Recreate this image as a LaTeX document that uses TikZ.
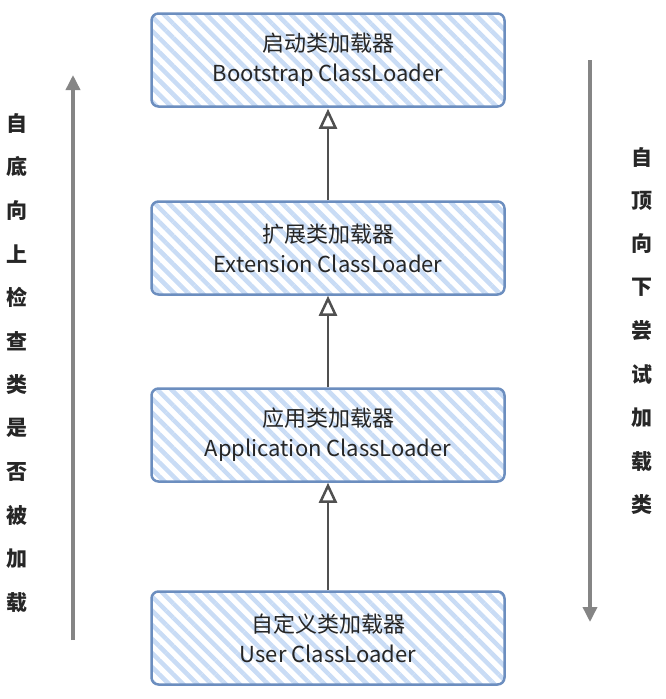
\documentclass[tikz,border=0pt]{standalone}
\usepackage{fontspec}
\setmainfont{Noto Sans CJK SC}
\usetikzlibrary{arrows.meta,patterns.meta}
\definecolor{boxline}{HTML}{6C8EBF}
\definecolor{hatch}{HTML}{C9DCF5}
\definecolor{conngray}{HTML}{505050}
\definecolor{sidegray}{HTML}{858585}
\tikzset{
  conntip/.tip={Triangle[length=20pt,width=18pt,open]}
}
\begin{document}
\begin{tikzpicture}[x=1pt,y=-1pt,
  loader/.style={draw=boxline, line width=2.5pt, rounded corners=7pt,
    minimum width=353pt, minimum height=93pt, inner sep=0pt,
    pattern={Lines[angle=-45,distance=10pt,line width=4.5pt]}, pattern color=hatch,
    align=center, font=\fontsize{22}{30}\selectfont, text=black!85},
  conn/.style={draw=conngray, line width=2.5pt, -conntip},
  side/.style={draw=sidegray, line width=3.5pt, -{Triangle[length=15pt,width=14pt]}},
  sidetext/.style={font=\fontsize{21}{21}\selectfont\bfseries, text=black!85, inner sep=0pt}
]
\useasboundingbox (0,0) rectangle (665,699);

\node[loader] (boot) at (328,60)  {启动类加载器\\Bootstrap ClassLoader};
\node[loader] (ext)  at (328,248) {扩展类加载器\\Extension ClassLoader};
\node[loader] (app)  at (328,435) {应用类加载器\\Application ClassLoader};
\node[loader] (user) at (328,638) {自定义类加载器\\User ClassLoader};

\draw[conn] (user.north) -- (app.south);
\draw[conn] (app.north) -- (ext.south);
\draw[conn] (ext.north) -- (boot.south);

\coordinate (lbot) at (73,640);
\coordinate (ltop) at (73,75);
\draw[side] (lbot) -- (ltop);
\coordinate (rtop) at (590,60);
\coordinate (rbot) at (590,622);
\draw[side] (rtop) -- (rbot);

\foreach \c [count=\i] in {自,底,向,上,检,查,类,是,否,被,加,载}
  \node[sidetext] (l\i) at (17,{123+43.6*(\i-1)}) {\c};
\foreach \c [count=\i] in {自,顶,向,下,尝,试,加,载,类}
  \node[sidetext] (r\i) at (642,{157+43.5*(\i-1)}) {\c};
\end{tikzpicture}
\end{document}
